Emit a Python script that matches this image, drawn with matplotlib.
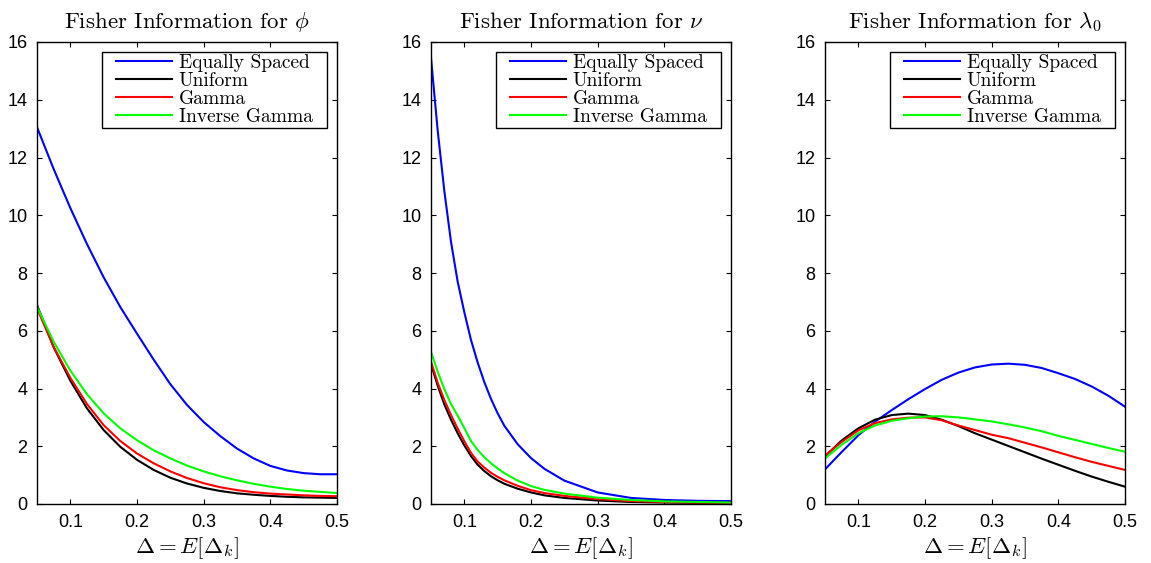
import numpy as np
import matplotlib
matplotlib.use('Agg')
import matplotlib.pyplot as plt
from matplotlib.path import Path

plt.rcParams['font.family'] = 'Liberation Sans'
plt.rcParams['mathtext.fontset'] = 'cm'

labels = ['Equally Spaced', 'Uniform', 'Gamma', 'Inverse Gamma']
colors = ['#0000ff', '#000000', '#ff0000', '#00ff00']
titles = [r'Fisher Information for $\phi$', r'Fisher Information for $\nu$',
          r'Fisher Information for $\lambda_0$']

# phi
x_phi = [0.05, 0.075, 0.1, 0.125, 0.15, 0.175, 0.2, 0.225, 0.25, 0.275, 0.3,
         0.325, 0.35, 0.375, 0.4, 0.425, 0.45, 0.475, 0.5]
phi_equal = [13.05, 11.6, 10.25, 9.0, 7.85, 6.82, 5.9, 5.0, 4.15, 3.43, 2.84,
             2.35, 1.92, 1.58, 1.32, 1.16, 1.07, 1.03, 1.03]
phi_unif = [6.89, 5.43, 4.27, 3.31, 2.56, 1.98, 1.53, 1.18, 0.91, 0.71, 0.56,
            0.45, 0.37, 0.32, 0.28, 0.25, 0.23, 0.22, 0.21]
phi_gamma = [6.78, 5.44, 4.37, 3.46, 2.73, 2.18, 1.75, 1.41, 1.13, 0.9, 0.72,
             0.58, 0.48, 0.41, 0.36, 0.33, 0.3, 0.28, 0.27]
phi_invgamma = [6.83, 5.62, 4.62, 3.8, 3.14, 2.62, 2.21, 1.86, 1.58, 1.33, 1.13,
                0.96, 0.82, 0.7, 0.6, 0.52, 0.46, 0.42, 0.38]

# nu
x_nu = [0.05, 0.06, 0.07, 0.08, 0.09, 0.10, 0.11, 0.12, 0.13, 0.14, 0.15, 0.16,
        0.18, 0.20, 0.22, 0.25, 0.30, 0.35, 0.40, 0.45, 0.50]
nu_equal = [15.45, 12.94, 10.84, 9.08, 7.7, 6.64, 5.68, 4.9, 4.22, 3.64, 3.14,
            2.71, 2.07, 1.59, 1.22, 0.81, 0.4, 0.21, 0.14, 0.11, 0.1]
nu_unif = [4.85, 4.1, 3.45, 2.92, 2.45, 2.03, 1.66, 1.36, 1.14, 0.96, 0.82, 0.7,
           0.53, 0.4, 0.3, 0.21, 0.12, 0.07, 0.05, 0.04, 0.03]
nu_gamma = [4.93, 4.2, 3.6, 3.08, 2.61, 2.17, 1.77, 1.47, 1.26, 1.08, 0.94, 0.82,
            0.63, 0.48, 0.38, 0.28, 0.17, 0.1, 0.07, 0.05, 0.04]
nu_invgamma = [5.27, 4.58, 3.98, 3.46, 3.06, 2.63, 2.18, 1.87, 1.62, 1.41, 1.23,
               1.07, 0.81, 0.62, 0.49, 0.36, 0.22, 0.14, 0.09, 0.07, 0.05]

# lambda0
x_lam = [0.05, 0.075, 0.1, 0.125, 0.15, 0.175, 0.2, 0.225, 0.25, 0.275, 0.3,
         0.325, 0.35, 0.375, 0.4, 0.425, 0.45, 0.475, 0.5]
lam_equal = [1.2, 1.8, 2.38, 2.85, 3.25, 3.63, 3.98, 4.3, 4.55, 4.73, 4.83,
             4.86, 4.82, 4.71, 4.53, 4.33, 4.07, 3.75, 3.37]
lam_unif = [1.65, 2.2, 2.62, 2.92, 3.08, 3.13, 3.08, 2.92, 2.7, 2.45, 2.23,
            2.01, 1.79, 1.57, 1.36, 1.15, 0.95, 0.77, 0.6]
lam_gamma = [1.68, 2.15, 2.55, 2.8, 2.93, 2.99, 3.0, 2.9, 2.72, 2.56, 2.4,
             2.28, 2.12, 1.96, 1.79, 1.62, 1.46, 1.32, 1.18]
lam_invgamma = [1.58, 2.05, 2.45, 2.72, 2.88, 2.97, 3.03, 3.04, 3.0, 2.93, 2.86,
                2.76, 2.65, 2.52, 2.36, 2.22, 2.08, 1.94, 1.81]

panels = [(x_phi, [phi_equal, phi_unif, phi_gamma, phi_invgamma]),
          (x_nu, [nu_equal, nu_unif, nu_gamma, nu_invgamma]),
          (x_lam, [lam_equal, lam_unif, lam_gamma, lam_invgamma])]


def wide_box(x0, y0, width, height, mutation_size):
    # legend frame with extra room left and right, like MATLAB's
    px = 0.62 * mutation_size
    return Path([(x0 - px, y0), (x0 + width + px, y0),
                 (x0 + width + px, y0 + height), (x0 - px, y0 + height),
                 (x0 - px, y0)], closed=True)


fig = plt.figure(figsize=(11.51, 5.63), dpi=100)
lefts = [37, 431, 825]
for i, (x, series) in enumerate(panels):
    ax = fig.add_axes([lefts[i] / 1151, 1 - 504 / 563, 300 / 1151, 462 / 563])
    for y, c, lab in zip(series, colors, labels):
        ax.plot(x, y, color=c, lw=1.5, label=lab)
    ax.set_xlim(0.05, 0.5)
    ax.set_ylim(0, 16)
    ax.set_xticks([0.1, 0.2, 0.3, 0.4, 0.5])
    ax.set_xticklabels(['0.1', '0.2', '0.3', '0.4', '0.5'])
    ax.set_yticks(range(0, 17, 2))
    ax.tick_params(direction='in', top=True, right=True, length=3.5,
                   labelsize=13, pad=7)
    for s in ax.spines.values():
        s.set_linewidth(1.0)
    ax.set_title(titles[i], fontfamily='cmr10', fontsize=16.5, pad=10)
    ax.set_xlabel(r'$\Delta = E[\Delta_k]$', fontsize=16.5, labelpad=3)
    leg = ax.legend(loc='upper right', bbox_to_anchor=(0.926, 0.978),
                    prop={'family': 'cmr10', 'size': 14},
                    fancybox=False, edgecolor='black', framealpha=1,
                    labelspacing=0, handlelength=2.9, handletextpad=0.35,
                    borderpad=0.1, borderaxespad=0)
    leg.get_frame().set_boxstyle(wide_box)
    leg.get_frame().set_linewidth(1.0)

plt.savefig('out.png', dpi=100)
